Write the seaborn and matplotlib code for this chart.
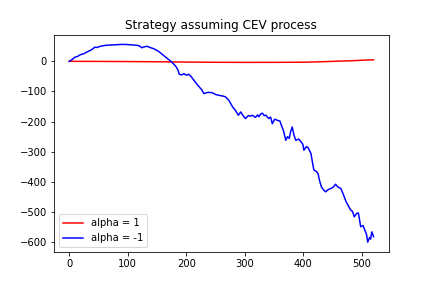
import matplotlib
matplotlib.use("Agg")
import matplotlib.pyplot as plt
import seaborn as sns
import pandas as pd

red_x = [0, 50, 100, 150, 200, 250, 300, 350, 400, 430, 460, 490, 510, 520]
red_y = [0, -0.3, -0.8, -1.5, -2.5, -3.2, -3.5, -3.4, -3.0, -1.5, 0.5, 2.5, 4.5, 5.0]

blue_x = [0, 5, 10, 14, 19, 25, 30, 37, 44, 48, 53, 62, 70, 80, 88, 96, 105, 116, 120, 124, 128,
          133, 138, 144, 152, 159, 166, 173, 178, 183, 186, 188, 192, 196, 200, 204, 208, 213,
          220, 227, 230, 237, 244, 250, 256, 262, 267, 273, 279, 284, 289, 293, 297, 301,
          306, 310, 313, 318, 322, 324, 327, 330, 333, 336, 341, 344, 347, 351, 356, 360,
          363, 366, 370, 373, 376, 378, 381, 384, 387, 392, 396, 399, 401, 405, 408, 413,
          416, 418, 422, 425, 428, 431, 435, 438, 443, 447, 451, 455, 458, 460, 464, 468,
          473, 477, 481, 484, 487, 491, 494, 498, 502, 505, 508, 510, 513, 515, 517, 520]
blue_y = [0, 6, 14, 16, 22, 25, 31, 37, 47, 46, 50, 53, 54, 55, 56, 56, 55, 53, 51, 45, 48,
          50, 46, 42, 34, 23, 12, 1, -8, -19, -30, -43, -45, -41, -46, -43, -50, -63,
          -80, -96, -107, -103, -104, -110, -113, -115, -118, -130, -151, -163, -179, -168, -180, -190,
          -180, -182, -179, -186, -178, -184, -175, -172, -180, -179, -190, -185, -207, -192, -196, -198,
          -215, -230, -262, -250, -256, -235, -218, -245, -262, -258, -267, -275, -295, -283, -286, -306,
          -340, -361, -365, -372, -398, -417, -428, -433, -425, -422, -418, -408, -415, -418, -422, -440,
          -466, -480, -494, -498, -516, -505, -503, -549, -545, -560, -575, -600, -585, -590, -566, -582]

df = pd.concat([
    pd.DataFrame({"t": red_x, "v": red_y, "label": "alpha = 1"}),
    pd.DataFrame({"t": blue_x, "v": blue_y, "label": "alpha = -1"}),
])

fig, ax = plt.subplots(figsize=(6, 4), dpi=72)
fig.subplots_adjust(left=0.125, right=0.9, top=0.88, bottom=0.125)
sns.lineplot(data=df, x="t", y="v", hue="label", palette={"alpha = 1": "red", "alpha = -1": "blue"},
             ax=ax, estimator=None, sort=False)
ax.set_xlabel("")
ax.set_ylabel("")
ax.set_title("Strategy assuming CEV process")
ax.legend(loc="lower left")
fig.savefig("out.png", dpi=72)
